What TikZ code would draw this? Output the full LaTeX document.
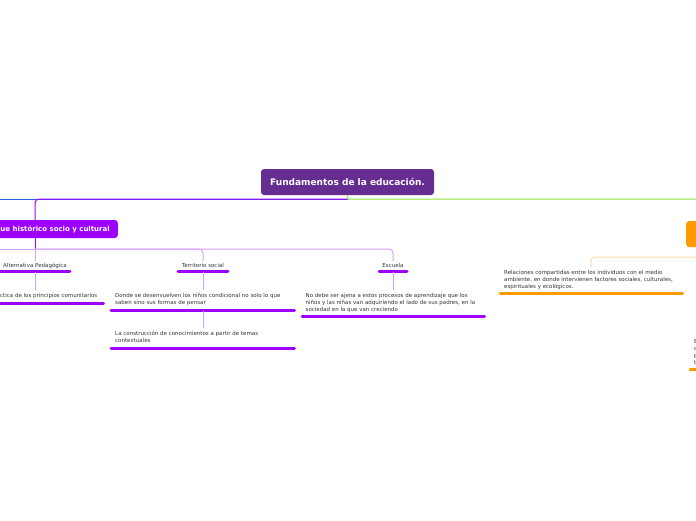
\documentclass[tikz,border=0pt]{standalone}
\usepackage{fontspec}
\setmainfont{DejaVu Sans}
\usetikzlibrary{calc}
\definecolor{centralc}{HTML}{662D91}
\definecolor{violetc}{HTML}{9E00FF}
\definecolor{lilacc}{HTML}{D6A2FF}
\definecolor{greenc}{HTML}{8EE23A}
\definecolor{bluec}{HTML}{2164E0}
\definecolor{orangec}{HTML}{FF9900}
\definecolor{lorangec}{HTML}{FFDBA6}
\definecolor{txtc}{HTML}{333333}
\begin{document}
\begin{tikzpicture}[x=1pt,y=-1pt,
  centralbox/.style={fill=centralc, rounded corners=3pt, text=white, font=\bfseries\fontsize{9}{10}\selectfont, minimum width=173pt, minimum height=26pt, inner sep=0pt},
  mainbox/.style={fill=violetc, rounded corners=3pt, text=white, font=\bfseries\fontsize{7}{8}\selectfont, minimum height=18pt, inner xsep=8pt, inner ysep=0pt},
  orangebox/.style={fill=orangec, rounded corners=3pt, minimum height=26pt, minimum width=40pt, inner sep=0pt},
  lbl/.style={text=txtc, font=\fontsize{5.5}{6.8}\selectfont, inner sep=0pt, align=left},
  ulv/.style={violetc, line width=3pt, line cap=round},
  ulo/.style={orangec, line width=3pt, line cap=round},
  lk/.style={lilacc, line width=1pt, rounded corners=4pt},
  lko/.style={lorangec, line width=1pt, rounded corners=4pt},
]
\useasboundingbox (0,0) rectangle (696,520);
\clip (0,0) rectangle (696,520);

% central topic
\node[centralbox] (c) at (347.5,182) {Fundamentos de la educación.};
\coordinate (hub) at (348,199);
\coordinate (offL) at (-30,199);
\coordinate (offR) at (730,199);
\coordinate (ex) at (35,0);

% main branch lines
\draw[bluec, line width=1pt] (hub) -- (offL);
\draw[violetc, line width=1pt, rounded corners=4pt] (hub) -- (35,199) -- (ex |- 0,221);
\draw[greenc, line width=1pt] (c.south) -- (hub) -- (offR);

% left main topic
\node[mainbox, anchor=east] (e) at (118,229) {Enfoque histórico socio y cultural};
\coordinate (ej) at (35,249);
\draw[violetc, line width=1pt] (ex |- e.south) -- (ej);

% subtopics of Enfoque
\node[lbl, anchor=center] (ap) at (35,265.5) {Alternativa Pedagógica};
\node[lbl, anchor=center] (ts) at (203,265.5) {Territorio social};
\node[lbl, anchor=center] (es) at (393,265.5) {Escuela};
\draw[lk] (ej) -- (-30,249);
\draw[lk] (ej) -- ($(ap.north)+(0,-2)$);
\draw[lk] (ej) -- (203,249) -- ($(ts.north)+(0,-2)$);
\draw[lk] (ej) -- (393,249) -- ($(es.north)+(0,-2)$);
\coordinate (ap-u) at (35,271.5);
\coordinate (ts-u) at (203,271.5);
\coordinate (es-u) at (393,271.5);
\draw[ulv] (-2,271.5) -- (70,271.5);
\draw[ulv] (178,271.5) -- (228,271.5);
\draw[ulv] (379,271.5) -- (407,271.5);

% children texts
\node[lbl, anchor=north east] (pr) at (97.5,293.3) {Práctica de los principios comunitarios};
\draw[ulv] (-2,303.5) -- (103.5,303.5);
\draw[lk] (ap-u) -- (ap-u |- 0,290);

\node[lbl, anchor=north west] (dn) at (115,293.3) {Donde se desenvuelven los niños condicional no solo lo que\\saben sino sus formas de pensar};
\coordinate (dn-u) at (203,310.5);
\draw[ulv] (111,310.5) -- (294.5,310.5);
\draw[lk] (ts-u) -- (ts-u |- 0,290);

\node[lbl, anchor=north west] (lc) at (115,331.3) {La construcción de conocimientos a partir de temas\\contextuales};
\draw[ulv] (111,348) -- (294.5,348);
\draw[lk] (dn-u) -- (dn-u |- 0,328);

\node[lbl, anchor=north west] (nd) at (305.5,293.3) {No debe ser ajena a estos procesos de aprendizaje que los\\niños y las niñas van adquiriendo el lado de sus padres, en la\\sociedad en la que van creciendo};
\draw[ulv] (302,316.5) -- (484.5,316.5);
\draw[lk] (es-u) -- (es-u |- 0,290);

% right main topic (orange)
\node[orangebox, anchor=west] (o) at (686,234) {};
\coordinate (oj) at (730,257);
\node[lbl, anchor=north west] (rl) at (504,270.3) {Relaciones compartidas entre los individuos con el medio\\ambiente, en donde intervienen factores sociales, culturales,\\espirituales y ecológicos.};
\draw[lko] (oj) -- (591,257) -- (591,267);
\draw[ulo] (500,293.5) -- (682.5,293.5);

\node[lbl, anchor=north west] (fr) at (694,339.5) {E\\c\\p\\t};
\draw[ulo] (690,369.5) -- (710,369.5);
\end{tikzpicture}
\end{document}
